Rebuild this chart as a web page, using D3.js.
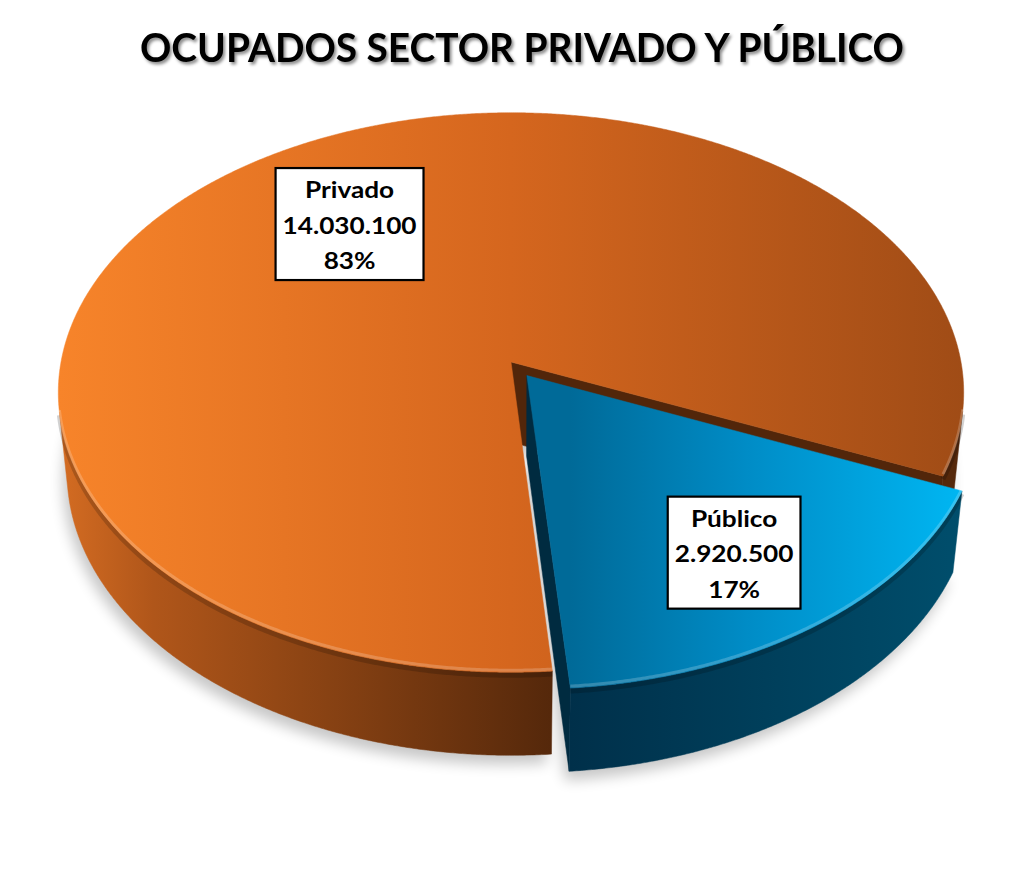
<!DOCTYPE html>
<html>
<head>
<meta charset="utf-8">
<script src="https://cdn.jsdelivr.net/npm/d3@7"></script>
<style>
  html, body { margin: 0; padding: 0; background: #fff; }
  svg { display: block; }
</style>
</head>
<body>
<svg id="chart" width="1027" height="891"></svg>
<script>
// Datos del gráfico
const chartTitle = "OCUPADOS SECTOR PRIVADO Y PÚBLICO";
const categories = ["Privado", "Público"];
const values = [14030100, 2920500];

// Estilos (colores de cada porción)
const topStops = [
    [[0, "#F7842A"], [0.5, "#D5661E"], [1, "#A04C16"]],
    [[0, "#006A98"], [0.45, "#008CC6"], [1, "#00B6F2"]]
];
const wallStops = [
    [[0, "#D46C22"], [0.19, "#B0561A"], [0.49, "#8E4514"], [1, "#55280B"]],
    [[0, "#00304A"], [1, "#004E6C"]]
];
const faceColors = ["#52260A", "#002B40"];

// Geometría de la "cámara" 3D
const width = 1027, height = 891;
const cx = 511, cy = 362;          // centro de la torta en pantalla
const tilt = 37.9 * Math.PI / 180; // inclinación
const camDist = 7.24;              // distancia de la cámara (radio = 1)
const focal = 3258;
const thickness = 0.23;
const firstAngle = 175.3 * Math.PI / 180;
const explode = [0, 0.06];
const labelRadius = [0.65, 0.73];

const sinT = Math.sin(tilt), cosT = Math.cos(tilt);
const camY = camDist * cosT;

function project(p) {
    const Y = -p[1] * sinT + p[2] * cosT;
    const dep = camDist - (p[1] * cosT + p[2] * sinT);
    return [cx + focal * p[0] / dep, cy - focal * Y / dep];
}

function rimPoint(theta, r, z, off) {
    return [off[0] + r * Math.cos(theta), off[1] + r * Math.sin(theta), z];
}

const svg = d3.select("#chart");
const defs = svg.append("defs");

defs.append("filter").attr("id", "shadowBlur")
    .attr("x", "-20%").attr("y", "-20%").attr("width", "140%").attr("height", "140%")
    .append("feGaussianBlur").attr("stdDeviation", 7);

const ts = defs.append("filter").attr("id", "titleShadow")
    .attr("x", "-5%").attr("y", "-30%").attr("width", "110%").attr("height", "160%");
ts.append("feDropShadow").attr("dx", 2).attr("dy", 2.5).attr("stdDeviation", 1.6)
    .attr("flood-color", "#000").attr("flood-opacity", 0.45);

const line = d3.line();
const total = d3.sum(values);
const fmtNum = d3.formatLocale({ decimal: ",", thousands: ".", grouping: [3], currency: ["$", ""] }).format(",");
const fmtPct = d3.format(".0%");

const pie = d3.pie().sort(null)
    .startAngle(firstAngle)
    .endAngle(firstAngle + 2 * Math.PI);

const slices = pie(values).map((a, i) => {
    const t0 = a.startAngle - Math.PI / 2;
    const t1 = a.endAngle - Math.PI / 2;
    const mid = (t0 + t1) / 2;
    const off = [explode[i] * Math.cos(mid), explode[i] * Math.sin(mid)];
    const n = Math.ceil((t1 - t0) / 0.005);
    const thetas = d3.range(n + 1).map(k => t0 + (t1 - t0) * k / n);

    // tramos visibles de la pared exterior
    const runs = [];
    let cur = null;
    thetas.forEach(t => {
        const vis = camY * Math.sin(t) - (off[0] * Math.cos(t) + off[1] * Math.sin(t)) - 1 > 0;
        if (vis) { if (!cur) { cur = []; runs.push(cur); } cur.push(t); }
        else cur = null;
    });
    return { i, a, t0, t1, mid, off, thetas, runs };
});

// gradientes
slices.forEach(s => {
    const xs = s.thetas.map(t => project(rimPoint(t, 1, 0, s.off))[0]);
    const gTop = defs.append("linearGradient").attr("id", "top" + s.i)
        .attr("gradientUnits", "userSpaceOnUse")
        .attr("x1", d3.min(xs)).attr("x2", d3.max(xs)).attr("y1", 0).attr("y2", 0);
    topStops[s.i].forEach(st => gTop.append("stop").attr("offset", st[0]).attr("stop-color", st[1]));

    // el tramo más largo define el degradado de la pared
    const main = d3.greatest(s.runs, r => r.length) || s.thetas;
    const fx = main.map(t => project(rimPoint(t, 1, 0, s.off))[0]);
    const gWall = defs.append("linearGradient").attr("id", "wall" + s.i)
        .attr("gradientUnits", "userSpaceOnUse")
        .attr("x1", d3.min(fx)).attr("x2", d3.max(fx)).attr("y1", 0).attr("y2", 0);
    wallStops[s.i].forEach(st => gWall.append("stop").attr("offset", st[0]).attr("stop-color", st[1]));
});

// sombra
const shadow = svg.append("g")
    .attr("transform", "translate(-4,9)")
    .attr("filter", "url(#shadowBlur)")
    .style("opacity", 0.22);
slices.forEach(s => {
    const pts = [project([s.off[0], s.off[1], -thickness])]
        .concat(s.thetas.map(t => project(rimPoint(t, 1, -thickness, s.off))));
    shadow.append("path").attr("d", line(pts) + "Z").attr("fill", "#000");
});

const pieG = svg.append("g");

slices.forEach(s => {
    const g = pieG.append("g").attr("class", "slice");
    const c0 = [s.off[0], s.off[1], 0], c1 = [s.off[0], s.off[1], -thickness];

    // caras de corte
    const faces = [];
    const nEnd = [-Math.sin(s.t1), Math.cos(s.t1)];
    if (camY * nEnd[1] - (s.off[0] * nEnd[0] + s.off[1] * nEnd[1]) > 0) faces.push(s.t1);
    const nStart = [Math.sin(s.t0), -Math.cos(s.t0)];
    if (camY * nStart[1] - (s.off[0] * nStart[0] + s.off[1] * nStart[1]) > 0) faces.push(s.t0);
    faces.forEach(t => {
        const pts = [c0, rimPoint(t, 1, 0, s.off), rimPoint(t, 1, -thickness, s.off), c1].map(project);
        g.append("path").attr("d", line(pts) + "Z")
            .attr("fill", faceColors[s.i])
            .attr("stroke", faceColors[s.i]).attr("stroke-width", 0.5);
    });

    // pared exterior
    s.runs.forEach(run => {
        const topPts = run.map(t => project(rimPoint(t, 1, 0, s.off)));
        const botPts = run.map(t => project(rimPoint(t, 1, -thickness, s.off))).reverse();
        g.append("path").attr("d", line(topPts.concat(botPts)) + "Z")
            .attr("fill", `url(#wall${s.i})`)
            .attr("stroke", `url(#wall${s.i})`).attr("stroke-width", 0.5);
        // sombreado bajo el borde
        g.append("path").attr("d", line(topPts.map(p => [p[0], p[1] + 3])))
            .attr("fill", "none").attr("stroke", "#000")
            .attr("stroke-opacity", 0.18).attr("stroke-width", 5);
    });

    // cara superior
    const topPts = [project(c0)].concat(s.thetas.map(t => project(rimPoint(t, 1, 0, s.off))));
    g.append("path").attr("d", line(topPts) + "Z")
        .attr("fill", `url(#top${s.i})`)
        .attr("stroke", `url(#top${s.i})`).attr("stroke-width", 0.5);

    // bisel del borde
    s.runs.forEach(run => {
        const pts = run.map(t => project(rimPoint(t, 1, 0, s.off)));
        g.append("path").attr("d", line(pts.map(p => [p[0], p[1] - 2])))
            .attr("fill", "none").attr("stroke", "#fff")
            .attr("stroke-opacity", 0.2).attr("stroke-width", 3);
    });
});

// título
svg.append("text")
    .attr("x", 140).attr("y", 62)
    .attr("textLength", 764).attr("lengthAdjust", "spacingAndGlyphs")
    .attr("filter", "url(#titleShadow)")
    .style("font-family", "Lato, 'Open Sans', sans-serif")
    .style("font-weight", "bold")
    .style("font-size", "40px")
    .style("fill", "#000")
    .text(chartTitle);

// etiquetas de datos
const labelFont = 22.5, lineGap = 35.5, padX = 7, refLabelWidth = 134;
const labelG = svg.append("g");

// ancho natural para estirar el texto como en el original
const probe = labelG.append("text")
    .style("font-family", "Lato, 'Open Sans', sans-serif")
    .style("font-weight", "bold").style("font-size", labelFont + "px")
    .text(fmtNum(values[0]));
const stretch = refLabelWidth / probe.node().getComputedTextLength();
probe.remove();

slices.forEach(s => {
    const r = labelRadius[s.i] + explode[s.i];
    const anchor = project([r * Math.cos(s.mid), r * Math.sin(s.mid), 0]);
    const lines = [categories[s.i], fmtNum(values[s.i]), fmtPct(values[s.i] / total)];
    const g = labelG.append("g");
    const box = g.append("rect");
    const boxTop = anchor[1] - 56;
    const txt = g.append("text")
        .attr("transform", `translate(${anchor[0]},${boxTop + 30}) scale(${stretch},1)`)
        .attr("text-anchor", "middle")
        .style("font-family", "Lato, 'Open Sans', sans-serif")
        .style("font-weight", "bold")
        .style("font-size", labelFont + "px")
        .style("fill", "#000");
    txt.selectAll("tspan").data(lines).enter().append("tspan")
        .attr("x", 0).attr("y", (d, k) => k * lineGap)
        .text(d => d);
    const w = d3.max(txt.selectAll("tspan").nodes(), n => n.getComputedTextLength()) * stretch + 2 * padX;
    box.attr("x", anchor[0] - w / 2).attr("y", boxTop)
        .attr("width", w).attr("height", 112)
        .attr("fill", "#fff").attr("stroke", "#000").attr("stroke-width", 2.2);
});
</script>
</body>
</html>
